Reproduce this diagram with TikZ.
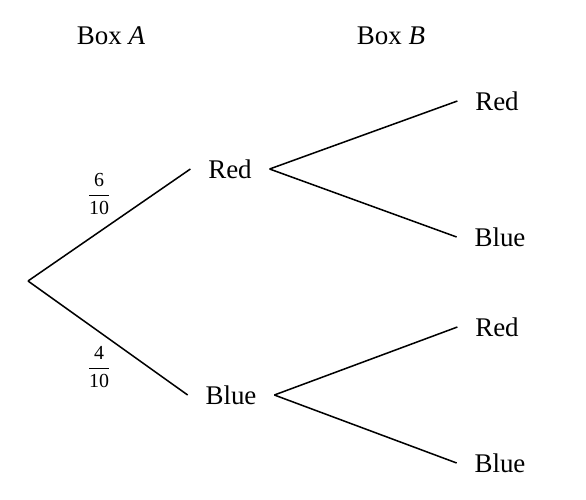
\documentclass[tikz,border=0pt]{standalone}
\usepackage{amsmath}
\usepackage{fontspec}
\setmainfont{Liberation Serif}
\usetikzlibrary{positioning}

\begin{document}
\begin{tikzpicture}[
    x=0.03cm, y=-0.03cm,
    outcome/.style={inner xsep=0.53cm, inner ysep=2pt, font=\fontsize{23}{27}\selectfont},
    heading/.style={font=\fontsize{23}{27}\selectfont},
    prob/.style={font=\fontsize{17}{19}\selectfont, inner sep=1pt},
    branch/.style={line width=1.3pt}
  ]
    \useasboundingbox (0,0) rectangle (586,499);

    % Headings
    \node[heading] (boxa) at (111,36) {Box \textit{A}};
    \node[heading] (boxb) at (391,36) {Box \textit{B}};

    % First stage
    \coordinate (root) at (28,281);
    \node[outcome] (red)  at (230,169) {Red};
    \node[outcome] (blue) at (231,395) {Blue};

    % Second stage
    \node[outcome] (rr) at (497,101) {Red};
    \node[outcome] (rb) at (500,237) {Blue};
    \node[outcome] (br) at (497,327) {Red};
    \node[outcome] (bb) at (500,463) {Blue};

    % Branches
    \draw[branch] (root) -- (red.west);
    \draw[branch] (root) -- (blue.west);
    \draw[branch] (red.east) -- (rr.west);
    \draw[branch] (red.east) -- (rb.west);
    \draw[branch] (blue.east) -- (br.west);
    \draw[branch] (blue.east) -- (bb.west);

    % Probabilities
    \node[prob] (pred)  at (99,194) {$\dfrac{\text{6}}{\text{10}}$};
    \node[prob] (pblue) at (99,367) {$\dfrac{\text{4}}{\text{10}}$};
\end{tikzpicture}
\end{document}
